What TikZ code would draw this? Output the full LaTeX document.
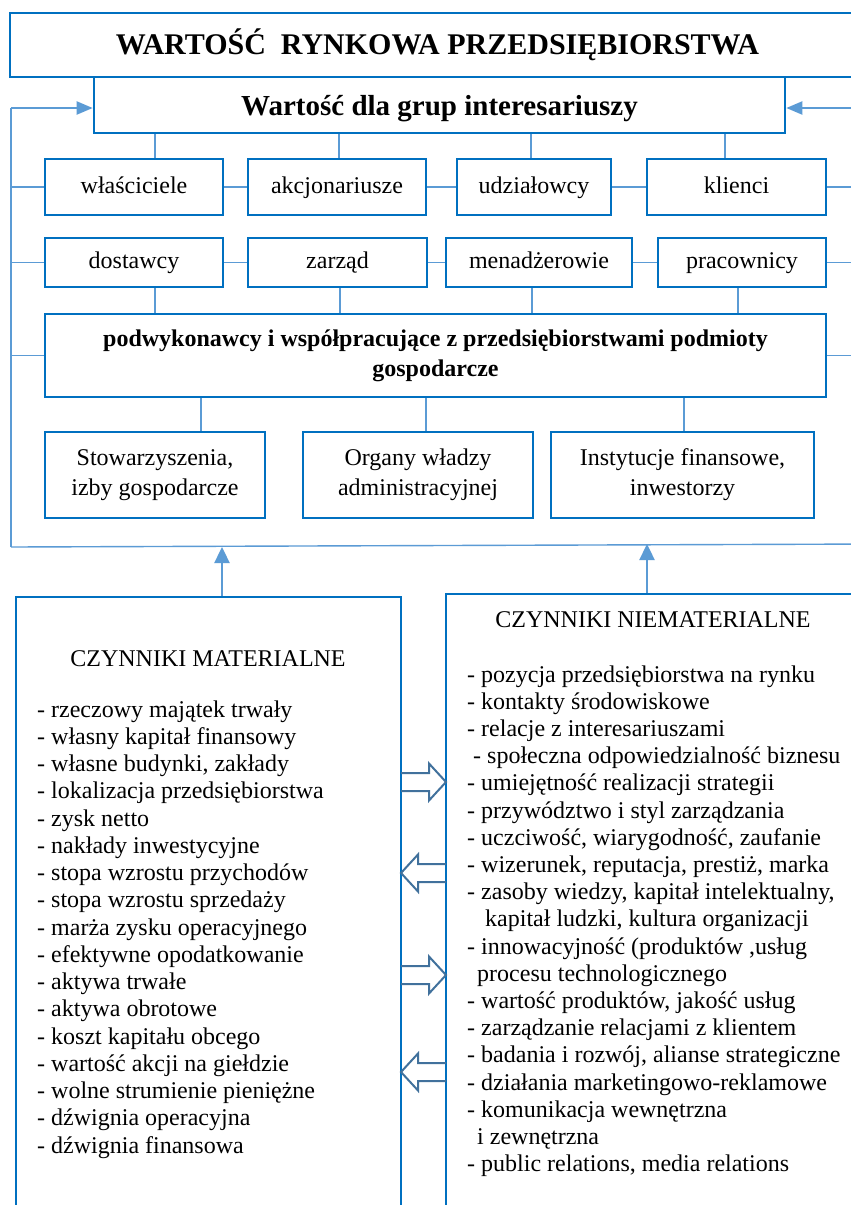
\documentclass[tikz,border=0pt]{standalone}
\usepackage{fontspec}
\setmainfont{Liberation Serif}
\usepackage{tikz}
\usetikzlibrary{arrows.meta,positioning,calc}
\usepackage{xcolor}
\definecolor{boxblue}{RGB}{0,112,192}
\definecolor{linkblue}{RGB}{91,155,213}
\definecolor{arrowblue}{RGB}{65,113,156}
\newcommand{\bodyfont}{\fontsize{24}{30}\selectfont}

\begin{document}
\begin{tikzpicture}[x=1pt,y=-1pt,
    box/.style={draw=boxblue, line width=2.6pt, fill=white, inner sep=0pt, align=center, font=\bodyfont},
    rowbox/.style={box, text height=17pt, text depth=5pt},
    link/.style={draw=linkblue, line width=1.4pt},
    feed/.style={draw=linkblue, line width=2.4pt, -{Triangle[length=16pt,width=15pt]}},
    hollow/.style={draw=arrowblue, line width=2pt, line join=miter},
    item/.style={anchor=base west, inner sep=0pt, font=\bodyfont}]
    \useasboundingbox[fill=white] (0,0) rectangle (851,1205);

    % --- Top: market value and stakeholder value ---
    \node[box, minimum width=855pt, minimum height=64pt, font=\bfseries\fontsize{30}{34}\selectfont] (title) at (437.5,45) {WARTOŚĆ~~RYNKOWA PRZEDSIĘBIORSTWA};
    \node[box, minimum width=691pt, minimum height=56pt, text height=23pt, text depth=3pt, font=\bfseries\fontsize{29}{32}\selectfont] (war) at (439.5,105) {Wartość dla grup interesariuszy};

    % --- Stakeholder rows ---
    \node[rowbox, minimum width=178pt, minimum height=56pt] (wl) at (134,187) {właściciele};
    \node[rowbox, minimum width=178pt, minimum height=56pt] (ak) at (337,187) {akcjonariusze};
    \node[rowbox, minimum width=154pt, minimum height=56pt] (ud) at (534,187) {udziałowcy};
    \node[rowbox, minimum width=179pt, minimum height=56pt] (kl) at (736.5,187) {klienci};

    \node[rowbox, minimum width=178pt, minimum height=49pt] (do) at (134,262.5) {dostawcy};
    \node[rowbox, minimum width=179pt, minimum height=49pt] (za) at (337.5,262.5) {zarząd};
    \node[rowbox, minimum width=186pt, minimum height=49pt] (me) at (539,262.5) {menadżerowie};
    \node[rowbox, minimum width=168pt, minimum height=49pt] (pr) at (742,262.5) {pracownicy};

    \node[box, minimum width=781pt, minimum height=83pt, font=\bfseries\bodyfont] (pod) at (435.5,355.5)
        {podwykonawcy i współpracujące z przedsiębiorstwami podmioty\\gospodarcze};

    \node[box, minimum width=220pt, minimum height=86pt] (sto) at (155,475) {Stowarzyszenia,\\izby gospodarcze};
    \node[box, minimum width=230pt, minimum height=86pt] (org) at (418,475) {Organy władzy\\administracyjnej};
    \node[box, minimum width=263pt, minimum height=86pt] (ins) at (682.5,475) {Instytucje finansowe,\\inwestorzy};

    % --- Connectors ---
    \foreach \n/\dx in {wl/21,ak/2,ud/-3,kl/-11.5}
        \draw[link] ([xshift=\dx pt]\n.north) -- ([xshift=\dx pt]\n.north |- war.south);
    \foreach \a/\b in {wl/ak,ak/ud,ud/kl,do/za,za/me,me/pr}
        \draw[link] (\a.east) -- (\b.west);
    \foreach \n/\dx in {do/21,za/2.5,me/-7,pr/-4}
        \draw[link] ([xshift=\dx pt]\n.south) -- ([xshift=\dx pt]\n.south |- pod.north);
    \foreach \n/\dx in {sto/46,org/8,ins/1.5}
        \draw[link] ([xshift=\dx pt]\n.north) -- ([xshift=\dx pt]\n.north |- pod.south);

    % --- Feedback loop ---
    \coordinate (lt) at (11,108);
    \coordinate (lb) at (11,547);
    \coordinate (rt) at (880,108);
    \coordinate (rb) at (880,544);
    \draw[link] (lb) -- (lt);
    \draw[link] (lb) -- (rb);
    \draw[feed, line width=2pt, -{Triangle[length=16pt,width=13pt]}] (lt) -- (lt -| war.west);
    \draw[feed, line width=2pt, -{Triangle[length=16pt,width=13pt]}] (rt) -- (rt -| war.east);
    \foreach \n in {wl,do,pod}
        \draw[link] (\n.west) -- (\n.west -| lt);
    \foreach \n in {kl,pr,pod}
        \draw[link] (\n.east) -- (\n.east -| rt);

    % --- Factor panels ---
    \node[box, minimum width=385pt, minimum height=633pt] (mat) at (208.5,913.5) {};
    \node[box, minimum width=434pt, minimum height=636pt] (nmat) at (663,912) {};
    \draw[feed] ([xshift=13.5pt]mat.north) -- ([xshift=13.5pt]mat.north |- lb);
    \draw[feed] ([xshift=-16pt]nmat.north) -- ([xshift=-16pt]nmat.north |- rb);

    \node[anchor=base, inner sep=0pt, font=\bodyfont] (mhead) at (208,666) {CZYNNIKI MATERIALNE};
    \node[anchor=base, inner sep=0pt, font=\bodyfont] (nhead) at (653,627) {CZYNNIKI NIEMATERIALNE};

    \foreach \txt [count=\i] in {{- rzeczowy majątek trwały},{- własny kapitał finansowy},
        {- własne budynki, zakłady},{- lokalizacja przedsiębiorstwa},{- zysk netto},
        {- nakłady inwestycyjne},{- stopa wzrostu przychodów},{- stopa wzrostu sprzedaży},
        {- marża zysku operacyjnego},{- efektywne opodatkowanie},{- aktywa trwałe},
        {- aktywa obrotowe},{- koszt kapitału obcego},{- wartość akcji na giełdzie},
        {- wolne strumienie pieniężne},{- dźwignia operacyjna},{- dźwignia finansowa}}
        \node[item] (mat\i) at (37,{717+27.25*(\i-1)}) {\txt};

    \foreach \dx/\txt [count=\i] in {0/{- pozycja przedsiębiorstwa na rynku},0/{- kontakty środowiskowe},
        0/{- relacje z interesariuszami},6/{- społeczna odpowiedzialność biznesu},
        0/{- umiejętność realizacji strategii},0/{- przywództwo i styl zarządzania},
        0/{- uczciwość, wiarygodność, zaufanie},0/{- wizerunek, reputacja, prestiż, marka},
        0/{- zasoby wiedzy, kapitał intelektualny,},18/{kapitał ludzki, kultura organizacji},
        0/{- innowacyjność (produktów ,usług},10/{procesu technologicznego},
        0/{- wartość produktów, jakość usług},0/{- zarządzanie relacjami z klientem},
        0/{- badania i rozwój, alianse strategiczne},0/{- działania marketingowo-reklamowe},
        0/{- komunikacja wewnętrzna},10/{i zewnętrzna},0/{- public relations, media relations}}
        \node[item] (nm\i) at ({467+\dx},{682+27.2*(\i-1)}) {\txt};

    % --- Hollow exchange arrows ---
    \foreach \yc/\dir in {782/1,873/-1,975/1,1072/-1}
        \draw[hollow] ({423.5-22.5*\dir},\yc-9) -- ({423.5+5.5*\dir},\yc-9) -- ({423.5+5.5*\dir},\yc-18.5)
            -- ({423.5+22.5*\dir},\yc) -- ({423.5+5.5*\dir},\yc+18.5) -- ({423.5+5.5*\dir},\yc+9)
            -- ({423.5-22.5*\dir},\yc+9);
\end{tikzpicture}
\end{document}
